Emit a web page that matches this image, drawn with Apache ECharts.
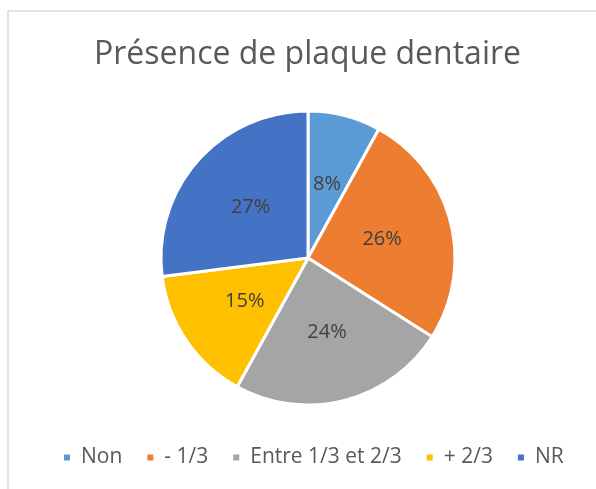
<!DOCTYPE html>
<html>
<head>
<meta charset="utf-8">
<script src="https://cdn.jsdelivr.net/npm/echarts@6/dist/echarts.min.js"></script>
<style>
  html, body { margin: 0; padding: 0; background: #fff; }
  #chart { width: 596px; height: 489px; }
</style>
</head>
<body>
<div id="chart"></div>
<script>
// categories and shares (percent)
const categories = ['Non', '- 1/3', 'Entre 1/3 et 2/3', '+ 2/3', 'NR']
const values = [8, 26, 24, 15, 27]
const colors = ['#5B9BD5', '#ED7D31', '#A5A5A5', '#FFC000', '#4472C4']

const font = '"Open Sans", Lato, sans-serif'

const chart = echarts.init(document.getElementById('chart'))

const option = {
  backgroundColor: '#fff',
  color: colors,
  title: {
    text: 'Présence de plaque dentaire',
    left: 89,
    top: 34,
    textStyle: { fontFamily: font, fontSize: 32, fontWeight: 'normal', color: '#595959' }
  },
  legend: {
    bottom: 16,
    left: 57,
    icon: 'rect',
    itemWidth: 8,
    itemHeight: 8,
    itemGap: 23,
    textStyle: { fontFamily: font, fontSize: 21, color: '#595959', padding: [0, 0, 0, 5] },
    data: categories
  },
  graphic: [
    // chart area frame (only top and left visible in the crop)
    {
      type: 'polyline',
      shape: { points: [[8, 600], [8, 11], [700, 11]] },
      style: { stroke: '#d9d9d9', lineWidth: 1.5, fill: null }
    }
  ],
  series: [
    {
      type: 'pie',
      center: [308, 258],
      radius: 147,
      startAngle: 90,
      clockwise: true,
      avoidLabelOverlap: false,
      itemStyle: { borderColor: '#fff', borderWidth: 3 },
      label: {
        position: 'inside',
        formatter: '{d}%',
        fontFamily: font,
        fontSize: 20,
        color: '#404040'
      },
      labelLine: { show: false },
      emphasis: { disabled: true },
      data: categories.map((name, i) => ({ name: name, value: values[i] }))
    }
  ]
}

chart.setOption(option)
</script>
</body>
</html>
